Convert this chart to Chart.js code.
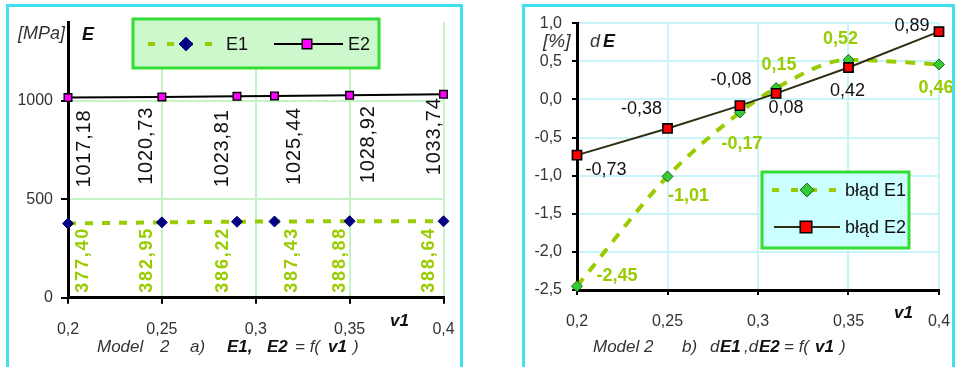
<!DOCTYPE html>
<html>
<head>
<meta charset="utf-8">
<script src="https://cdn.jsdelivr.net/npm/chart.js@4/dist/chart.umd.min.js"></script>
<style>
  html, body { margin: 0; padding: 0; background: #fff; width: 955px; height: 367px; overflow: hidden; }
  .panel { position: absolute; border: 3px solid #40e0f0; border-bottom: none; box-sizing: border-box; }
  #pa { left: 6px; top: 4px; width: 457px; height: 363px; }
  #pb { left: 522px; top: 4px; width: 433px; height: 363px; }
  canvas { position: absolute; left: 0; top: 0; }
</style>
</head>
<body>
<div class="panel" id="pa"><canvas id="ca" width="451" height="360" style="width:451px;height:360px"></canvas></div>
<div class="panel" id="pb"><canvas id="cb" width="427" height="360" style="width:427px;height:360px"></canvas></div>
<script>
// Poisson ratio of layer 1
const v1 = [0.2, 0.25, 0.29, 0.31, 0.35, 0.4];
// Young's moduli [MPa]
const E1 = [377.40, 382.95, 386.22, 387.43, 388.88, 388.64];
const E2 = [1017.18, 1020.73, 1023.81, 1025.44, 1028.92, 1033.74];
// relative errors [%]
const dE1 = [-2.45, -1.01, -0.17, 0.15, 0.52, 0.46];
const dE2 = [-0.73, -0.38, -0.08, 0.08, 0.42, 0.89];
// axis ticks
const xTicks = [0.2, 0.25, 0.3, 0.35, 0.4];
const yTicksA = [0, 500, 1000];
const yTicksB = [-2.5, -2.0, -1.5, -1.0, -0.5, 0.0, 0.5, 1.0];

// value label placement (pixel nudges around each point)
const lblE1dx = [15, -15, -14, 18, -10, -14];
const lblE2dx = [16, -15, -14, 20, 19, -9];
const lblE2dy = [12, 10, 13, 11, 10, 3];
const lblDE1dx = [40, 21, 2, 3, -8, -3];
const lblDE1dy = [-10, 20, 32, -23, -21, 24];
const lblDE2dx = [29, -26, -9, 10, -1, -27];
const lblDE2dy = [15, -19, -26, 15, 24, -6];

const FONT = '"Liberation Sans", Arial, sans-serif';
const LIME = '#99cc00';

const comma = (v, d) => v.toFixed(d).replace('.', ',');
const xFmt = v => String(Number(v.toFixed(2))).replace('.', ',');
const pts = (xs, ys) => xs.map((x, i) => ({ x: x, y: ys[i] }));

// data labels drawn next to every point
const valueLabels = {
  id: 'valueLabels',
  afterDatasetsDraw(chart, args, opts) {
    const ctx = chart.ctx;
    (opts.sets || []).forEach(s => {
      const meta = chart.getDatasetMeta(s.dataset);
      const data = chart.data.datasets[s.dataset].data;
      ctx.save();
      ctx.font = s.font;
      ctx.fillStyle = s.color;
      ctx.letterSpacing = s.spacing || '0px';
      meta.data.forEach((pt, i) => {
        const text = comma(data[i].y, 2);
        const x = pt.x + s.dx[i];
        if (s.rotate) {
          const atBase = s.anchor === 'base';
          const y = atBase ? chart.chartArea.bottom - s.gap : pt.y + s.dy[i];
          ctx.save();
          ctx.translate(x, y);
          ctx.rotate(-Math.PI / 2);
          ctx.textAlign = atBase ? 'left' : 'right';
          ctx.textBaseline = 'middle';
          ctx.fillText(text, 0, 0);
          ctx.restore();
        } else {
          ctx.textAlign = 'center';
          ctx.textBaseline = 'middle';
          ctx.fillText(text, x, pt.y + s.dy[i]);
        }
      });
      ctx.restore();
    });
  }
};

// framed legend with line samples and markers
const boxLegend = {
  id: 'boxLegend',
  afterDraw(chart, args, o) {
    if (!o.box) return;
    const ctx = chart.ctx;
    const [bx, by, bw, bh] = o.box;
    ctx.save();
    ctx.fillStyle = o.fill;
    ctx.fillRect(bx, by, bw, bh);
    ctx.lineWidth = 3;
    ctx.strokeStyle = o.stroke;
    ctx.strokeRect(bx, by, bw, bh);
    o.items.forEach(it => {
      const ds = chart.data.datasets[it.dataset];
      ctx.save();
      ctx.strokeStyle = ds.borderColor;
      ctx.lineWidth = ds.borderWidth;
      ctx.setLineDash(it.dash || []);
      ctx.beginPath();
      ctx.moveTo(it.x1, it.y);
      ctx.lineTo(it.x2, it.y);
      ctx.stroke();
      ctx.setLineDash([]);
      ctx.fillStyle = ds.pointBackgroundColor;
      ctx.strokeStyle = ds.pointBorderColor;
      ctx.lineWidth = ds.pointBorderWidth;
      Chart.helpers.drawPoint(ctx, {
        pointStyle: ds.pointStyle, rotation: 0,
        radius: ds.pointRadius * 1.25, borderWidth: ds.pointBorderWidth
      }, it.mx, it.y);
      ctx.restore();
      ctx.fillStyle = '#111';
      ctx.font = o.font;
      ctx.textAlign = 'left';
      ctx.textBaseline = 'middle';
      ctx.fillText(ds.label, it.tx, it.y + 1);
    });
    ctx.restore();
  }
};

// axis names and caption under the plot
const captions = {
  id: 'captions',
  afterDraw(chart, args, o) {
    const ctx = chart.ctx;
    ctx.save();
    ctx.textAlign = 'left';
    ctx.textBaseline = 'middle';
    (o.items || []).forEach(t => {
      ctx.font = t.font;
      ctx.fillStyle = t.color || '#333';
      ctx.fillText(t.text, t.x, t.y);
    });
    ctx.restore();
  }
};

const IT = sz => 'italic ' + sz + 'px ' + FONT;
const BI = sz => 'italic bold ' + sz + 'px ' + FONT;

function xScale(gridColor, tickLen, pad, height) {
  return {
    type: 'linear', min: 0.2, max: 0.4,
    afterBuildTicks: s => { s.ticks = xTicks.map(v => ({ value: v })); },
    afterFit: s => { s.height = height; s.paddingLeft = 0; s.paddingRight = 0; },
    grid: {
      color: c => c.index === 0 ? 'rgba(0,0,0,0)' : gridColor,
      lineWidth: 2, tickColor: '#000', tickWidth: 2, tickLength: tickLen
    },
    border: { display: true, color: '#000', width: 3 },
    ticks: { callback: v => xFmt(v), color: '#333', padding: pad, maxRotation: 0,
             font: { family: FONT, size: 16 } }
  };
}

function yScale(min, max, list, fmt, gridColor, tickLen, pad, width) {
  return {
    type: 'linear', min: min, max: max,
    afterBuildTicks: s => { s.ticks = list.map(v => ({ value: v })); },
    afterFit: s => { s.width = width; s.paddingTop = 0; s.paddingBottom = 0; },
    grid: {
      color: c => c.index === 0 ? 'rgba(0,0,0,0)' : gridColor,
      lineWidth: 2, tickColor: '#000', tickWidth: 2, tickLength: tickLen
    },
    border: { display: true, color: '#000', width: 3 },
    ticks: { callback: fmt, color: '#333', padding: pad, font: { family: FONT, size: 16 } }
  };
}

const common = {
  responsive: false,
  animation: false,
  events: [],
};

// a) moduli E1, E2
new Chart(document.getElementById('ca'), {
  type: 'line',
  data: {
    datasets: [
      {
        label: 'E1', data: pts(v1, E1), clip: false,
        borderColor: LIME, borderWidth: 4, borderDash: [8, 9],
        pointStyle: 'rectRot', pointRadius: 5.5,
        pointBackgroundColor: '#000080', pointBorderColor: '#000080', pointBorderWidth: 1
      },
      {
        label: 'E2', data: pts(v1, E2), clip: false,
        borderColor: '#000', borderWidth: 2,
        pointStyle: 'rect', pointRadius: 5.4,
        pointBackgroundColor: '#ff00ff', pointBorderColor: '#000', pointBorderWidth: 1.4
      }
    ]
  },
  options: Object.assign({}, common, {
    layout: { padding: { top: 15.3, right: 16.5, left: 0, bottom: 0 } },
    scales: {
      x: xScale('#c6f3c6', 6, 16, 69.3),
      y: yScale(0, 1400, yTicksA, v => String(v), '#c6f3c6', 7, 8, 59)
    },
    plugins: {
      legend: { display: false }, tooltip: { enabled: false }, title: { display: false },
      valueLabels: { sets: [
        { dataset: 0, rotate: true, anchor: 'base', gap: 5, dx: lblE1dx,
          font: 'bold 18px ' + FONT, color: LIME, spacing: '1.8px' },
        { dataset: 1, rotate: true, anchor: 'point', dx: lblE2dx, dy: lblE2dy,
          font: '20px ' + FONT, color: '#111', spacing: '0.8px' }
      ] },
      boxLegend: {
        box: [124, 12, 246, 49], fill: '#ccf8cc', stroke: '#33dd33', font: '18px ' + FONT,
        items: [
          { dataset: 0, x1: 139, x2: 209, mx: 177, tx: 217, y: 37, dash: [7, 12] },
          { dataset: 1, x1: 265, x2: 334, mx: 298, tx: 339, y: 37 }
        ]
      },
      captions: { items: [
        { text: '[MPa]', x: 9, y: 27, font: IT(18) },
        { text: 'E', x: 73, y: 28, font: BI(18), color: '#111' },
        { text: 'v1', x: 381, y: 314, font: BI(17), color: '#111' },
        { text: 'Model', x: 88, y: 340, font: IT(17) },
        { text: '2', x: 151, y: 340, font: IT(17) },
        { text: 'a)', x: 181, y: 340, font: IT(17) },
        { text: 'E1,', x: 218, y: 340, font: BI(17), color: '#111' },
        { text: 'E2', x: 258, y: 340, font: BI(17), color: '#111' },
        { text: '= f(', x: 286, y: 340, font: IT(17) },
        { text: 'v1', x: 319, y: 340, font: BI(17), color: '#111' },
        { text: ')', x: 344, y: 340, font: IT(17) }
      ] }
    }
  }),
  plugins: [valueLabels, boxLegend, captions]
});

// b) relative errors dE1, dE2
new Chart(document.getElementById('cb'), {
  type: 'line',
  data: {
    datasets: [
      {
        label: 'błąd E1', data: pts(v1, dE1), order: 1, clip: false,
        borderColor: LIME, borderWidth: 4, borderDash: [10, 9],
        tension: 0.4, cubicInterpolationMode: 'monotone',
        pointStyle: 'rectRot', pointRadius: 5.5,
        pointBackgroundColor: '#33cc33', pointBorderColor: '#1d5e1d', pointBorderWidth: 1
      },
      {
        label: 'błąd E2', data: pts(v1, dE2), order: 0, clip: false,
        borderColor: '#2e2e14', borderWidth: 2,
        pointStyle: 'rect', pointRadius: 6.5,
        pointBackgroundColor: '#ff0000', pointBorderColor: '#000', pointBorderWidth: 1.6
      }
    ]
  },
  options: Object.assign({}, common, {
    layout: { padding: { top: 16.3, right: 13, left: 0, bottom: 0 } },
    scales: {
      x: xScale('#c8f4fa', 5, 17, 77),
      y: yScale(-2.5, 1.0, yTicksB, v => comma(v, 1), '#c8f4fa', 5, 10, 52)
    },
    plugins: {
      legend: { display: false }, tooltip: { enabled: false }, title: { display: false },
      valueLabels: { sets: [
        { dataset: 0, dx: lblDE1dx, dy: lblDE1dy, font: 'bold 18px ' + FONT, color: LIME },
        { dataset: 1, dx: lblDE2dx, dy: lblDE2dy, font: '18px ' + FONT, color: '#111' }
      ] },
      boxLegend: {
        box: [237, 165, 147, 76], fill: '#ccffff', stroke: '#33dd33', font: '18px ' + FONT,
        items: [
          { dataset: 0, x1: 247, x2: 318, mx: 282, tx: 320, y: 183, dash: [7, 12] },
          { dataset: 1, x1: 249, x2: 315, mx: 281, tx: 320, y: 220 }
        ]
      },
      captions: { items: [
        { text: '[%]', x: 18, y: 35, font: IT(19) },
        { text: 'd', x: 65, y: 35, font: IT(18) },
        { text: 'E', x: 78, y: 35, font: BI(18), color: '#111' },
        { text: 'v1', x: 369, y: 306, font: BI(17), color: '#111' },
        { text: 'Model 2', x: 68, y: 340, font: IT(17) },
        { text: 'b)', x: 157, y: 340, font: IT(17) },
        { text: 'd', x: 185, y: 340, font: IT(17) },
        { text: 'E1', x: 195, y: 340, font: BI(17), color: '#111' },
        { text: ',d', x: 219, y: 340, font: IT(17) },
        { text: 'E2', x: 234, y: 340, font: BI(17), color: '#111' },
        { text: '= f(', x: 259, y: 340, font: IT(17) },
        { text: 'v1', x: 290, y: 340, font: BI(17), color: '#111' },
        { text: ')', x: 315, y: 340, font: IT(17) }
      ] }
    }
  }),
  plugins: [valueLabels, boxLegend, captions]
});
</script>
</body>
</html>
